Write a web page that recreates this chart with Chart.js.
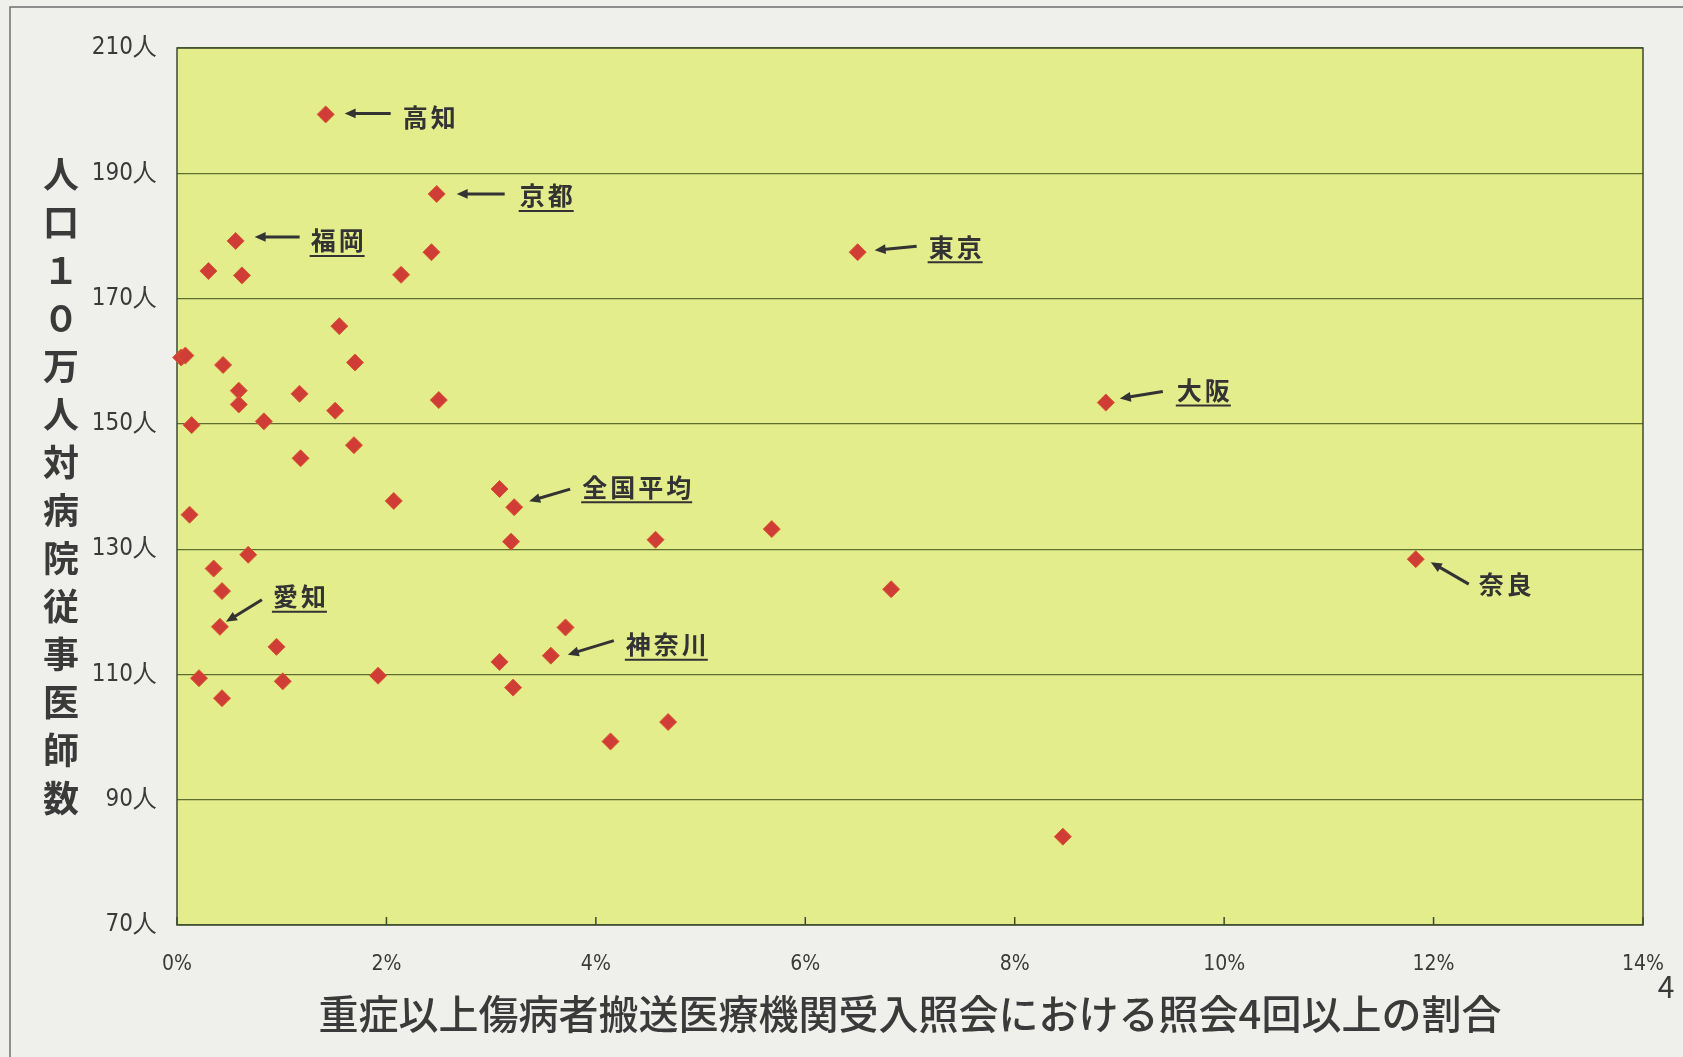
<!DOCTYPE html>
<html lang="ja">
<head>
<meta charset="utf-8">
<title>病院従事医師数と照会4回以上の割合</title>
<script src="https://cdn.jsdelivr.net/npm/chart.js@4.4.1/dist/chart.umd.min.js"></script>
<style>
    html, body { margin: 0; padding: 0; background: #efefec; }
    #chart-container { width: 1683px; height: 1057px; position: relative; }
</style>
</head>
<body>
<div id="chart-container"><canvas id="chart"></canvas></div>
<script>
// x: 照会4回以上の割合 (%), y: 人口10万人対病院従事医師数 (人)
const rates = [
    1.42, 2.48, 0.56, 6.50, 8.87, 3.22, 11.83, 0.41, 3.57,
    0.30, 0.62, 2.43, 2.14, 1.55, 0.04, 0.08, 0.44, 1.70, 0.59,
    0.59, 1.17, 1.51, 2.50, 0.14, 0.83, 1.69, 1.18, 3.08, 2.07,
    0.12, 3.19, 4.57, 5.68, 0.68, 0.35, 0.43, 6.82, 3.71, 0.95,
    3.08, 0.21, 1.01, 1.92, 3.21, 0.43, 4.14, 4.69, 8.46
];
const doctors = [
    199.4, 186.7, 179.2, 177.4, 153.4, 136.7, 128.4, 117.6, 113.0,
    174.4, 173.7, 177.4, 173.8, 165.6, 160.6, 160.9, 159.4, 159.8, 155.3,
    153.1, 154.8, 152.1, 153.8, 149.8, 150.4, 146.6, 144.5, 139.6, 137.7,
    135.5, 131.2, 131.5, 133.2, 129.1, 126.9, 123.3, 123.6, 117.5, 114.4,
    112.0, 109.4, 108.9, 109.8, 107.9, 106.2, 99.3, 102.4, 84.1
];
// names of the labelled points, same order as the first values above
const calloutNames = ['高知', '京都', '福岡', '東京', '大阪', '全国平均', '奈良', '愛知', '神奈川'];

const yTicks = [70, 90, 110, 130, 150, 170, 190, 210];
const xTicks = [0, 2, 4, 6, 8, 10, 12, 14];

const yTitle = '人口１０万人対病院従事医師数';
const xTitle = '重症以上傷病者搬送医療機関受入照会における照会4回以上の割合';

// arrow tail, arrow head and text offsets from the point, in pixels
const calloutStyle = {
    '高知':   { tail: [65, -1], head: [19, -1], text: [77, 3], underline: false },
    '京都':   { tail: [68, 0], head: [20, 0], text: [83, 2], underline: true },
    '福岡':   { tail: [64, -4], head: [19, -4], text: [75, 0], underline: true },
    '東京':   { tail: [59, -6], head: [17, -2], text: [71, -5], underline: true },
    '大阪':   { tail: [57, -11], head: [14, -4], text: [71, -12], underline: true },
    '全国平均': { tail: [56, -18], head: [15, -6], text: [68, -20], underline: true },
    '奈良':   { tail: [53, 25], head: [15, 3], text: [63, 25], underline: false },
    '愛知':   { tail: [42, -27], head: [6, -5], text: [53, -30], underline: true },
    '神奈川':  { tail: [63, -15], head: [17, -1], text: [75, -11], underline: true },
};

const points = rates.map((x, i) => ({ x: x, y: doctors[i] }));

const JP = '"Noto Sans CJK JP", "Noto Sans", sans-serif';
const NARROW = '"Liberation Sans Narrow", "DejaVu Sans Condensed", "Liberation Sans", sans-serif';

// Paper, frame, plot fill and inward tick marks
const backdrop = {
    id: 'backdrop',
    beforeDraw(chart) {
        const {ctx, chartArea: a} = chart;
        ctx.save();
        ctx.fillStyle = '#efefec';
        ctx.fillRect(0, 0, chart.width, chart.height);
        ctx.strokeStyle = '#6f6f6f';
        ctx.lineWidth = 1.5;
        ctx.beginPath();
        ctx.moveTo(10, chart.height);
        ctx.lineTo(10, 7);
        ctx.lineTo(chart.width, 7);
        ctx.stroke();
        ctx.fillStyle = '#e4ed8c';
        ctx.fillRect(a.left, a.top, a.right - a.left, a.bottom - a.top);
        ctx.restore();
    },
    beforeDatasetsDraw(chart) {
        const {ctx, chartArea: a, scales} = chart;
        ctx.save();
        ctx.strokeStyle = '#3d4a30';
        ctx.lineWidth = 1.5;
        ctx.strokeRect(a.left, a.top, a.right - a.left, a.bottom - a.top);
        ctx.beginPath();
        xTicks.forEach(t => {
            const px = scales.x.getPixelForValue(t);
            ctx.moveTo(px, a.bottom);
            ctx.lineTo(px, a.bottom - 8);
        });
        ctx.stroke();
        ctx.restore();
    }
};

function drawArrow(ctx, x1, y1, x2, y2) {
    const ang = Math.atan2(y2 - y1, x2 - x1);
    const len = 12;
    ctx.beginPath();
    ctx.moveTo(x1, y1);
    ctx.lineTo(x2 - Math.cos(ang) * 6, y2 - Math.sin(ang) * 6);
    ctx.stroke();
    ctx.beginPath();
    ctx.moveTo(x2, y2);
    ctx.lineTo(x2 - len * Math.cos(ang - 0.42), y2 - len * Math.sin(ang - 0.42));
    ctx.lineTo(x2 - len * Math.cos(ang + 0.42), y2 - len * Math.sin(ang + 0.42));
    ctx.closePath();
    ctx.fill();
}

// Callouts, axis titles and the page number
const labels = {
    id: 'labels',
    afterDraw(chart) {
        const {ctx, chartArea: a, scales} = chart;
        ctx.save();
        ctx.fillStyle = '#333333';
        ctx.strokeStyle = '#333333';

        calloutNames.forEach((name, i) => {
            const s = calloutStyle[name];
            const px = scales.x.getPixelForValue(rates[i]);
            const py = scales.y.getPixelForValue(doctors[i]);
            ctx.lineWidth = 3;
            drawArrow(ctx, px + s.tail[0], py + s.tail[1], px + s.head[0], py + s.head[1]);
            ctx.font = 'bold 25px ' + JP;
            ctx.textAlign = 'left';
            ctx.textBaseline = 'middle';
            const tx = px + s.text[0];
            const ty = py + s.text[1];
            let w = 0;
            [...name].forEach(ch => {
                ctx.fillText(ch, tx + w, ty);
                w += ctx.measureText(ch).width + 3;
            });
            if (s.underline) {
                ctx.lineWidth = 2;
                ctx.beginPath();
                ctx.moveTo(tx - 1, ty + 15);
                ctx.lineTo(tx + w - 2, ty + 15);
                ctx.stroke();
            }
        });

        // vertical y title, one character per line
        ctx.font = 'bold 36px ' + JP;
        ctx.textAlign = 'center';
        ctx.textBaseline = 'middle';
        ctx.fillStyle = '#3a3a3a';
        const chars = [...yTitle];
        const step = 48;
        const mid = (a.top + a.bottom) / 2;
        chars.forEach((ch, i) => {
            ctx.fillText(ch, 61, mid + (i - (chars.length - 1) / 2) * step);
        });

        ctx.font = '500 40px ' + JP;
        ctx.fillText(xTitle, (a.left + a.right) / 2, 1014);

        ctx.font = '30px ' + JP;
        ctx.fillText('4', 1666, 987);
        ctx.restore();
    }
};

new Chart(document.getElementById('chart'), {
    type: 'scatter',
    data: {
        datasets: [{
            data: points,
            pointStyle: 'rectRot',
            pointRadius: 8.5,
            pointHoverRadius: 8.5,
            backgroundColor: '#cf3d36',
            borderColor: '#d9592f',
            borderWidth: 1,
            clip: false
        }]
    },
    options: {
        responsive: true,
        maintainAspectRatio: false,
        animation: false,
        layout: { padding: { top: 48, right: 24, bottom: 0, left: 0 } },
        plugins: {
            legend: { display: false },
            tooltip: { enabled: false }
        },
        scales: {
            x: {
                type: 'linear',
                min: 0,
                max: 14,
                afterFit: scale => { scale.height = 132; },
                afterBuildTicks: scale => { scale.ticks = xTicks.map(v => ({ value: v })); },
                grid: { display: false },
                border: { display: false },
                ticks: {
                    padding: 19,
                    color: '#3a3a3a',
                    font: { family: NARROW, size: 21 },
                    maxRotation: 0,
                    callback: v => v + '%'
                }
            },
            y: {
                min: 70,
                max: 210,
                afterFit: scale => { scale.width = 177; },
                afterBuildTicks: scale => { scale.ticks = yTicks.map(v => ({ value: v })); },
                grid: { color: '#5d6e2f', lineWidth: 1.2, drawTicks: false },
                border: { display: false },
                ticks: {
                    padding: 20,
                    color: '#3a3a3a',
                    font: { family: NARROW, size: 24 },
                    callback: v => v + '人'
                }
            }
        }
    },
    plugins: [backdrop, labels]
});
</script>
</body>
</html>
